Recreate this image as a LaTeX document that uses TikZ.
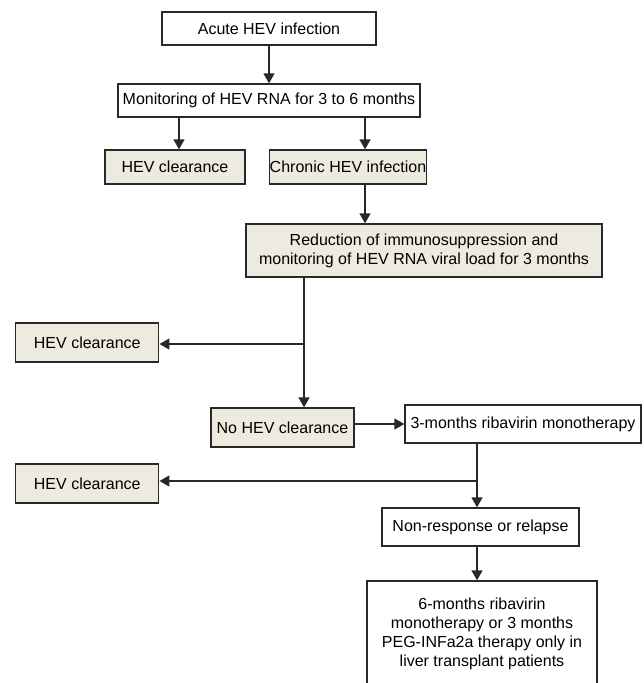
\documentclass[tikz,border=0pt]{standalone}
\usepackage{fontspec}
\setmainfont{Liberation Sans}
\usetikzlibrary{arrows.meta}
\definecolor{boxfill}{RGB}{237,234,223}
\definecolor{edge}{RGB}{40,40,40}
\tikzset{
  box/.style={draw=edge, line width=1.3pt, inner sep=0pt, align=center,
    font=\fontsize{16}{19}\selectfont},
  shaded/.style={box, fill=boxfill},
  plain/.style={box, fill=white},
  arr/.style={draw=edge, line width=1.4pt, -{Triangle[width=11pt,length=10pt]}},
  ln/.style={draw=edge, line width=1.3pt}
}
\begin{document}
\begin{tikzpicture}[x=1pt,y=-1pt]
\useasboundingbox (0,0) rectangle (643,683);
\fill[white] (0,0) rectangle (643,683);
\begin{scope}
\clip (0,0) rectangle (643,683);
\node[plain, minimum width=214pt, minimum height=33pt] (acute) at (269,28.5) {Acute HEV infection};
\node[plain, minimum width=302pt, minimum height=33pt] (monitor) at (269,100.5) {Monitoring of HEV RNA for 3 to 6 months};
\node[shaded, minimum width=140pt, minimum height=34pt] (clear1) at (175,167) {HEV clearance};
\node[shaded, minimum width=138pt, minimum height=34pt] (chronic) at (348,167) {Chronic HEV infection};
\node[shaded, minimum width=356pt, minimum height=53pt] (reduct) at (424,250.5) {Reduction of immunosuppression and\\monitoring of HEV RNA viral load for 3 months};
\node[shaded, minimum width=143pt, minimum height=39pt] (clear2) at (87.3,342.5) {HEV clearance};
\node[shaded, minimum width=143pt, minimum height=39pt] (noclear) at (282.5,427.5) {No HEV clearance};
\node[plain, minimum width=236pt, minimum height=38pt] (riba) at (523,424) {3-months ribavirin monotherapy};
\node[shaded, minimum width=143pt, minimum height=39pt] (clear3) at (87.3,483.5) {HEV clearance};
\node[plain, minimum width=197pt, minimum height=38pt] (nonresp) at (480.5,527) {Non-response or relapse};
\node[plain, minimum width=230pt, minimum height=106pt] (final) at (482,634) {6-months ribavirin\\monotherapy or 3 months\\PEG-INFa2a therapy only in\\liver transplant patients};

\coordinate (c1) at (179,0);
\coordinate (c2) at (365,0);
\coordinate (c3) at (304,0);
\coordinate (c4) at (477,0);
\coordinate (b1) at (304,344);
\coordinate (b2) at (477,481);

\draw[arr] (acute.south) -- (monitor.north);
\draw[arr] (monitor.south -| c1) -- (clear1.north -| c1);
\draw[arr] (monitor.south -| c2) -- (chronic.north -| c2);
\draw[arr] (chronic.south -| c2) -- (reduct.north -| c2);
\draw[arr] (reduct.south -| c3) -- (noclear.north -| c3);
\draw[arr] (b1) -- (b1 -| clear2.east);
\draw[arr] (riba.west -| noclear.east) -- (riba.west);
\draw[arr] (riba.south -| c4) -- (nonresp.north -| c4);
\draw[arr] (b2) -- (b2 -| clear3.east);
\draw[arr] (nonresp.south -| c4) -- (final.north -| c4);
\end{scope}
\end{tikzpicture}
\end{document}
